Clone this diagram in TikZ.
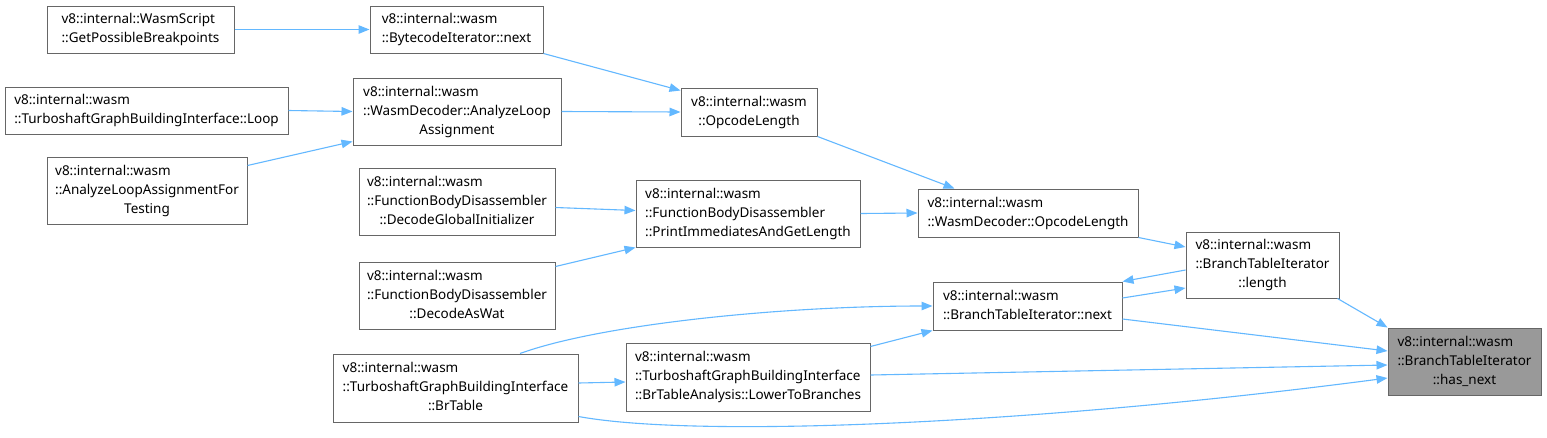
\documentclass[tikz,border=0pt]{standalone}
\usepackage{fontspec}
\setmainfont{Noto Sans}
\usetikzlibrary{arrows.meta}
\definecolor{edgeblue}{HTML}{63B8FF}
\definecolor{boxgray}{HTML}{666666}
\definecolor{hlgray}{HTML}{999999}
\newcommand{\tl}[2]{\begin{tabular}{@{}l@{}}#1\\\multicolumn{1}{@{}c@{}}{#2}\end{tabular}}
\tikzset{
  box/.style={draw=boxgray, line width=1pt, fill=white, inner sep=0pt, align=left,
    font=\fontsize{13.5}{19}\selectfont},
  hl/.style={box, fill=hlgray},
  edge/.style={draw=edgeblue, line width=1.1pt, -{Triangle[length=11pt,width=8.5pt]}}
}
\begin{document}
\begin{tikzpicture}[x=1pt,y=-1pt]
\useasboundingbox[fill=white] (0,0) rectangle (1547,437);
\node[box, minimum width=187pt, minimum height=47pt] (A) at (140.5,29.5) {\tl{v8::internal::WasmScript}{::GetPossibleBreakpoints}};
\node[box, minimum width=173pt, minimum height=47pt] (B) at (456.5,29.5) {\tl{v8::internal::wasm}{::BytecodeIterator::next}};
\node[box, minimum width=283pt, minimum height=47pt] (C) at (146.5,110.5) {\tl{v8::internal::wasm}{::TurboshaftGraphBuildingInterface::Loop}};
\node[box, minimum width=208pt, minimum height=67pt] (D) at (457,111.5) {\tl{v8::internal::wasm\\::WasmDecoder::AnalyzeLoop}{Assignment}};
\node[box, minimum width=200pt, minimum height=67pt] (E) at (147,190.5) {\tl{v8::internal::wasm\\::AnalyzeLoopAssignmentFor}{Testing}};
\node[box, minimum width=136pt, minimum height=48pt] (F) at (749,112) {\tl{v8::internal::wasm}{::OpcodeLength}};
\node[box, minimum width=196pt, minimum height=67pt] (G) at (457,201.5) {\tl{v8::internal::wasm\\::FunctionBodyDisassembler}{::DecodeGlobalInitializer}};
\node[box, minimum width=224pt, minimum height=67pt] (H) at (748,213.5) {\tl{v8::internal::wasm\\::FunctionBodyDisassembler}{::PrintImmediatesAndGetLength}};
\node[box, minimum width=220pt, minimum height=48pt] (I) at (1028,213) {\tl{v8::internal::wasm}{::WasmDecoder::OpcodeLength}};
\node[box, minimum width=196pt, minimum height=67pt] (J) at (457,295.5) {\tl{v8::internal::wasm\\::FunctionBodyDisassembler}{::DecodeAsWat}};
\node[box, minimum width=153pt, minimum height=66pt] (K) at (1262.5,265) {\tl{v8::internal::wasm\\::BranchTableIterator}{::length}};
\node[box, minimum width=189pt, minimum height=48pt] (L) at (1027.5,306) {\tl{v8::internal::wasm}{::BranchTableIterator::next}};
\node[box, minimum width=245pt, minimum height=68pt] (M) at (455.5,388) {\tl{v8::internal::wasm\\::TurboshaftGraphBuildingInterface}{::BrTable}};
\node[box, minimum width=244pt, minimum height=68pt] (N) at (748,377) {\tl{v8::internal::wasm\\::TurboshaftGraphBuildingInterface}{::BrTableAnalysis::LowerToBranches}};
\node[hl, minimum width=153pt, minimum height=67pt] (O) at (1464.5,361.5) {\tl{v8::internal::wasm\\::BranchTableIterator}{::has\_next}};

\draw[edge] (A.east) -- (B.west);
\draw[edge] (B.south east) -- ([yshift=-3pt]F.north west);
\draw[edge] (D.east) -- (F.west);
\draw[edge] (C.east) -- (D.west);
\draw[edge] ([yshift=-9pt]E.north east) -- ([yshift=4pt]D.south west);
\draw[edge] (F.south east) -- ([xshift=37pt]I.north west);
\draw[edge] ([yshift=-6pt]G.east) -- ([yshift=3pt]H.west);
\draw[edge] ([yshift=-5pt]J.north east) -- (H.south west);
\draw[edge] (H.east) -- (I.west);
\draw[edge] (I.south east) -- ([yshift=18pt]K.west);
\draw[edge] ([yshift=-5pt]K.west) -- (L.north east);
\draw[edge] ([yshift=8pt]L.east) -- ([yshift=-23pt]K.west);
\draw[edge] ([xshift=-2pt]K.south east) -- (O.north west);
\draw[edge] ([yshift=-13pt]L.east) -- ([yshift=10.5pt]O.west);
\draw[edge] ([xshift=64.5pt]M.north) .. controls +(80,-29) and +(-153,0) .. (L.west);
\draw[edge] ([yshift=-4pt]N.north east) -- (L.south west);
\draw[edge] ([yshift=2pt]N.east) -- ([yshift=-3.5pt]O.west);
\draw[edge] ([yshift=5pt]M.east) -- ([yshift=-5pt]N.west);
\draw[edge] ([yshift=6pt]M.south east) .. controls +(120,22) and +(-350,46) .. ([yshift=-16.5pt]O.west);
\end{tikzpicture}
\end{document}
